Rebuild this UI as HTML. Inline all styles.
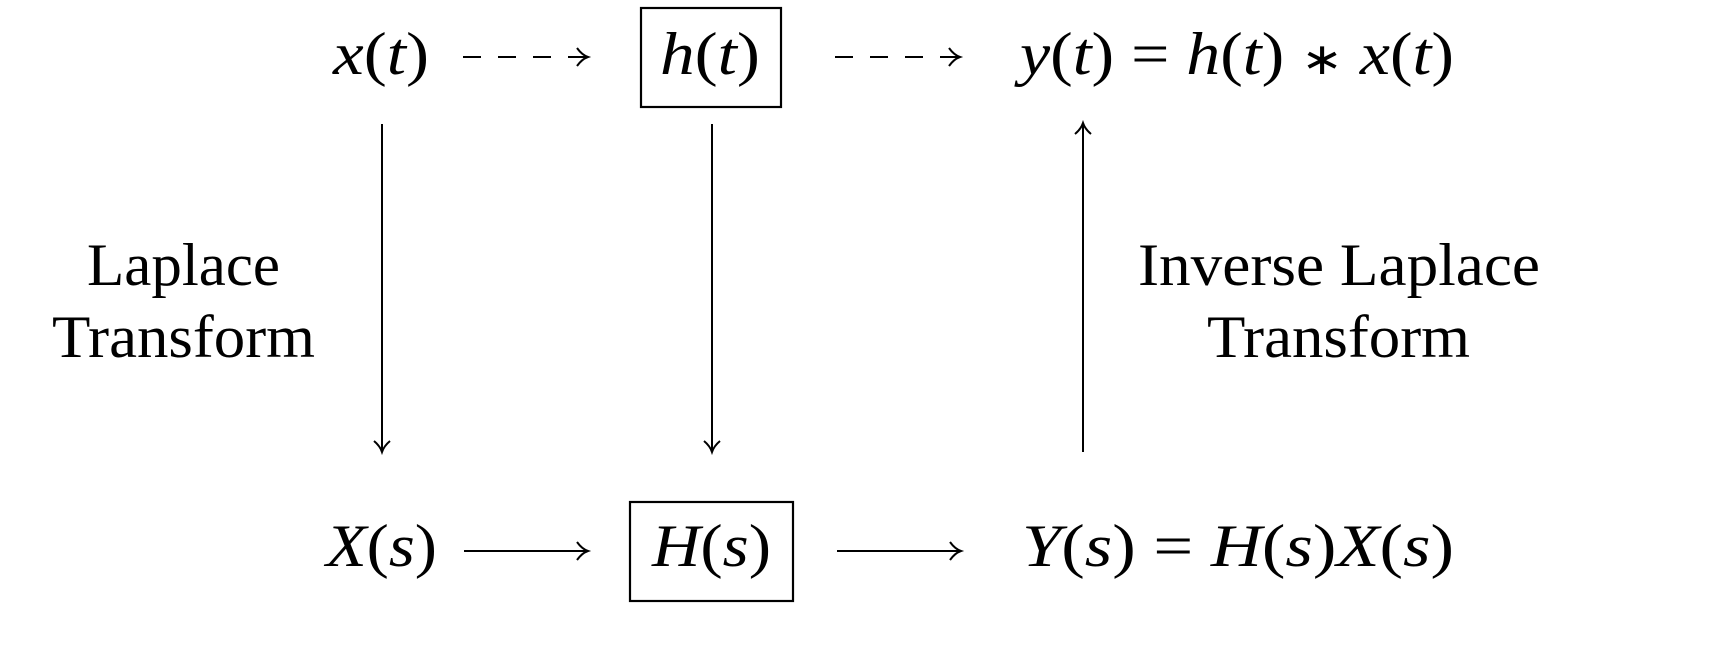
<!DOCTYPE html>
<html><head><meta charset="utf-8"><style>
html,body{margin:0;padding:0;background:#fff;}
svg{display:block}
text{font-family:"Liberation Serif",serif;fill:#000}
.m{font-style:italic;font-size:60px}
.t{font-size:60px}
.u{font-style:normal}
.a{font-style:normal;font-size:44px}
</style></head><body>
<svg width="1712" height="660" viewBox="0 0 1712 660" xmlns="http://www.w3.org/2000/svg">
<g stroke="#000" fill="none" stroke-width="2.2">
<rect x="641" y="8" width="140" height="99"/>
<rect x="630" y="502" width="163" height="99"/>
</g>
<g stroke="#000" fill="none" stroke-width="2">
<line x1="463" y1="57" x2="587" y2="57" stroke-dasharray="18,17"/>
<path d="M577,48 Q582,55 588,57 Q582,59 577,66"/>
<line x1="835" y1="57" x2="959" y2="57" stroke-dasharray="18,17"/>
<path d="M949,48 Q954,55 960,57 Q954,59 949,66"/>
<line x1="464" y1="551" x2="587" y2="551"/>
<path d="M577,542 Q582,549 588,551 Q582,553 577,560"/>
<line x1="837" y1="551" x2="960" y2="551"/>
<path d="M950,542 Q955,549 961,551 Q955,553 950,560"/>
<line x1="382" y1="124" x2="382" y2="451"/>
<path d="M374,441 Q380,446 382,452 Q384,446 390,441"/>
<line x1="712" y1="124" x2="712" y2="451"/>
<path d="M704,441 Q710,446 712,452 Q714,446 720,441"/>
<line x1="1083" y1="452" x2="1083" y2="124"/>
<path d="M1075,134 Q1081,129 1083,123 Q1085,129 1091,134"/>
</g>
<text class="m" x="333" y="74" textLength="96" lengthAdjust="spacingAndGlyphs">x<tspan class="u">(</tspan>t<tspan class="u">)</tspan></text>
<text class="m" x="660" y="74" textLength="100" lengthAdjust="spacingAndGlyphs">h<tspan class="u">(</tspan>t<tspan class="u">)</tspan></text>
<text class="m" x="1020" y="74" textLength="434" lengthAdjust="spacingAndGlyphs">y<tspan class="u">(</tspan>t<tspan class="u">) = </tspan>h<tspan class="u">(</tspan>t<tspan class="u">) </tspan><tspan class="a">∗</tspan><tspan class="u"> </tspan>x<tspan class="u">(</tspan>t<tspan class="u">)</tspan></text>
<text class="m" x="326" y="566" textLength="111" lengthAdjust="spacingAndGlyphs">X<tspan class="u">(</tspan>s<tspan class="u">)</tspan></text>
<text class="m" x="652" y="566" textLength="119" lengthAdjust="spacingAndGlyphs">H<tspan class="u">(</tspan>s<tspan class="u">)</tspan></text>
<text class="m" x="1022" y="566" textLength="432" lengthAdjust="spacingAndGlyphs">Y<tspan class="u">(</tspan>s<tspan class="u">) = </tspan>H<tspan class="u">(</tspan>s<tspan class="u">)</tspan>X<tspan class="u">(</tspan>s<tspan class="u">)</tspan></text>
<text class="t" x="87" y="285" textLength="193" lengthAdjust="spacingAndGlyphs">Laplace</text>
<text class="t" x="52" y="357" textLength="263" lengthAdjust="spacingAndGlyphs">Transform</text>
<text class="t" x="1138" y="285" textLength="402" lengthAdjust="spacingAndGlyphs">Inverse Laplace</text>
<text class="t" x="1207" y="357" textLength="263" lengthAdjust="spacingAndGlyphs">Transform</text>
</svg>
</body></html>
